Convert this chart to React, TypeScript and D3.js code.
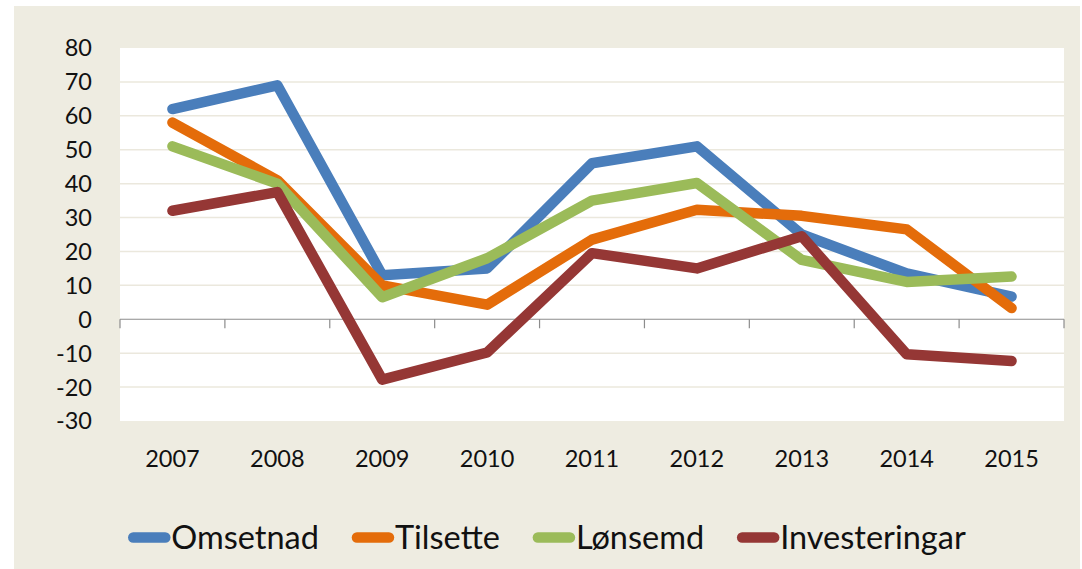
import React, { useEffect, useRef } from 'react';
import * as d3 from 'd3';

const years = ['2007', '2008', '2009', '2010', '2011', '2012', '2013', '2014', '2015'];
const omsetnad = [62, 69, 13, 15, 46, 51, 25, 13.5, 6.7];
const tilsette = [58, 41, 10, 4.3, 23.5, 32.3, 30.5, 26.5, 3.3];
const lonsemd = [51, 40, 6.5, 18, 35, 40.2, 17.5, 11, 12.6];
const investeringar = [32, 37.5, -17.8, -9.8, 19.5, 15, 24.5, -10.3, -12.3];
const yTicks = [80, 70, 60, 50, 40, 30, 20, 10, 0, -10, -20, -30];

const seriesNames = ['Omsetnad', 'Tilsette', 'Lønsemd', 'Investeringar'];
const seriesValues = [omsetnad, tilsette, lonsemd, investeringar];
const seriesColors = ['#4a7ebb', '#e46c0a', '#9bbb59', '#953735'];

export default function App() {
  const ref = useRef<SVGSVGElement>(null);

  useEffect(() => {
    const svg = d3.select(ref.current);
    svg.selectAll('*').remove();

    const width = 1082;
    const height = 569;
    const font = 'Lato, "Open Sans", sans-serif';

    // beige frame
    svg.append('rect')
      .attr('x', 14).attr('y', 6)
      .attr('width', 1066).attr('height', height - 6)
      .attr('fill', '#eeece1');

    // plot area
    const plot = { left: 120, right: 1064, top: 48, bottom: 421 };
    svg.append('rect')
      .attr('x', plot.left).attr('y', plot.top)
      .attr('width', plot.right - plot.left).attr('height', plot.bottom - plot.top)
      .attr('fill', '#ffffff');

    const x = d3.scaleBand().domain(years).range([plot.left, plot.right]);
    const y = d3.scaleLinear().domain([-30, 80]).range([plot.bottom, plot.top]);

    // gridlines
    svg.append('g')
      .selectAll('line')
      .data(yTicks.filter(t => t !== 0 && t !== 80 && t !== -30))
      .enter()
      .append('line')
      .attr('x1', plot.left).attr('x2', plot.right)
      .attr('y1', d => y(d)).attr('y2', d => y(d))
      .attr('stroke', '#ebe8dd')
      .attr('stroke-width', 1.5);

    // zero axis with ticks at category boundaries
    const zero = y(0);
    svg.append('line')
      .attr('x1', plot.left).attr('x2', plot.right)
      .attr('y1', zero).attr('y2', zero)
      .attr('stroke', '#8c8c8c').attr('stroke-width', 1.2);
    const bounds = years.map(d => x(d) as number).concat([plot.right]);
    svg.append('g')
      .selectAll('line')
      .data(bounds)
      .enter()
      .append('line')
      .attr('x1', d => d).attr('x2', d => d)
      .attr('y1', zero).attr('y2', zero + 9)
      .attr('stroke', '#8c8c8c').attr('stroke-width', 1.2);

    // y labels
    svg.append('g')
      .selectAll('text')
      .data(yTicks)
      .enter()
      .append('text')
      .attr('x', 92)
      .attr('y', d => y(d))
      .attr('dy', '0.36em')
      .attr('text-anchor', 'end')
      .style('font-family', font)
      .style('font-size', '23.5px')
      .attr('fill', '#111')
      .text(d => d);

    // x labels
    svg.append('g')
      .selectAll('text')
      .data(years)
      .enter()
      .append('text')
      .attr('x', d => (x(d) as number) + x.bandwidth() / 2)
      .attr('y', 467)
      .attr('text-anchor', 'middle')
      .style('font-family', font)
      .style('font-size', '23.5px')
      .attr('fill', '#111')
      .text(d => d);

    // lines
    const line = d3.line<number>()
      .x((d, i) => (x(years[i]) as number) + x.bandwidth() / 2)
      .y(d => y(d));

    seriesValues.forEach((vals, i) => {
      svg.append('path')
        .attr('d', line(vals))
        .attr('fill', 'none')
        .attr('stroke', seriesColors[i])
        .attr('stroke-width', 10.5)
        .attr('stroke-linecap', 'round')
        .attr('stroke-linejoin', 'round');
    });

    // legend
    const legend = svg.append('g');
    const ly = 537.5;
    let cursor = 0;
    seriesNames.forEach((name, i) => {
      legend.append('line')
        .attr('x1', cursor + 5).attr('x2', cursor + 37)
        .attr('y1', ly).attr('y2', ly)
        .attr('stroke', seriesColors[i])
        .attr('stroke-width', 10.5)
        .attr('stroke-linecap', 'round');
      const t = legend.append('text')
        .attr('x', cursor + 43)
        .attr('y', ly)
        .attr('dy', '0.36em')
        .style('font-family', font)
        .style('font-size', '32.5px')
        .attr('fill', '#111')
        .text(name);
      const w = (t.node() as SVGTextElement).getComputedTextLength();
      cursor += 43 + w + 33;
    });
    const total = cursor - 33;
    legend.attr('transform', 'translate(' + (547 - total / 2) + ',0)');

    svg.attr('width', width).attr('height', height);
  }, []);

  return (
    <div style={{ position: 'absolute', left: 0, top: 0 }}>
      <svg ref={ref} width={1082} height={569} style={{ display: 'block' }} />
    </div>
  );
}
